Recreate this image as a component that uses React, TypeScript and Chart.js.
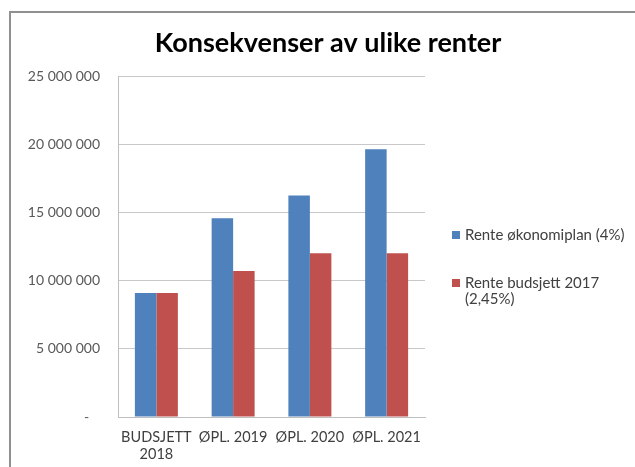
import React, { useEffect, useRef } from "react";
import { Chart, registerables } from "chart.js";

Chart.register(...registerables);

const TITLE = "Konsekvenser av ulike renter";
const categories: (string | string[])[] = [["BUDSJETT", "2018"], "ØPL. 2019", "ØPL. 2020", "ØPL. 2021"];
const seriesNames = ["Rente økonomiplan (4%)", "Rente budsjett 2017 (2,45%)"];
const renteOkonomiplan = [9100000, 14570000, 16230000, 19630000];
const renteBudsjett2017 = [9100000, 10700000, 12000000, 12000000];
const seriesColors = ["#4F81BD", "#C0504D"];
const yMin = 0;
const yMax = 25000000;
const yStep = 5000000;

function formatTick(v: number): string {
  if (v === 0) return "-   ";
  return String(Math.round(v)).replace(/\B(?=(\d{3})+(?!\d))/g, " ");
}

function wrapText(ctx: CanvasRenderingContext2D, text: string, maxW: number): string[] {
  const words = text.split(" ");
  const lines: string[] = [];
  let cur = "";
  for (const w of words) {
    const test = cur ? cur + " " + w : w;
    if (ctx.measureText(test).width > maxW && cur) {
      lines.push(cur);
      cur = w;
    } else {
      cur = test;
    }
  }
  if (cur) lines.push(cur);
  return lines;
}

const decorPlugin = {
  id: "decor",
  afterDraw(chart: any) {
    const { ctx, chartArea } = chart;
    ctx.save();
    ctx.fillStyle = "#000000";
    ctx.font = "bold 27px Lato";
    ctx.textAlign = "center";
    ctx.textBaseline = "alphabetic";
    ctx.fillText(TITLE, 328, 52);

    ctx.font = "15px Lato";
    ctx.textAlign = "left";
    ctx.textBaseline = "middle";
    const lx = chartArea.right + 27;
    const tx = lx + 13;
    const maxW = 635 - tx - 1;
    let y = 235;
    chart.data.datasets.forEach((ds: any) => {
      const lines = wrapText(ctx, ds.label, maxW);
      ctx.fillStyle = ds.backgroundColor;
      ctx.fillRect(lx, y - 4, 8, 8);
      ctx.fillStyle = "#404040";
      lines.forEach((ln, j) => ctx.fillText(ln, tx, y + j * 16));
      y += 48;
    });
    ctx.restore();
  },
};

export default function App() {
  const ref = useRef<HTMLCanvasElement | null>(null);

  useEffect(() => {
    if (!ref.current) return;
    const chart = new Chart(ref.current, {
      type: "bar",
      data: {
        labels: categories as any,
        datasets: [
          {
            label: seriesNames[0],
            data: renteOkonomiplan,
            backgroundColor: seriesColors[0],
            borderWidth: 0,
          },
          {
            label: seriesNames[1],
            data: renteBudsjett2017,
            backgroundColor: seriesColors[1],
            borderWidth: 0,
          },
        ],
      },
      options: {
        animation: false,
        responsive: false,
        devicePixelRatio: 1,
        layout: { padding: { left: 0, top: 76, right: 210, bottom: 0 } },
        plugins: {
          legend: { display: false },
          title: { display: false },
          tooltip: { enabled: false },
        },
        datasets: {
          bar: { categoryPercentage: 0.56, barPercentage: 1.0 },
        },
        scales: {
          x: {
            grid: { display: false, drawTicks: false },
            border: { display: true, color: "#BFBFBF", width: 1 },
            ticks: {
              color: "#404040",
              padding: 12,
              maxRotation: 0,
              autoSkip: false,
              font: { family: "Lato", size: 14.5, lineHeight: 1.17 },
            },
            afterFit: (scale: any) => {
              scale.height = 50;
            },
          },
          y: {
            min: yMin,
            max: yMax,
            grid: { color: "#C8C8C8", lineWidth: 1, drawTicks: false },
            border: { display: true, color: "#BFBFBF", width: 1 },
            ticks: {
              stepSize: yStep,
              color: "#595959",
              padding: 18,
              font: { family: "Lato", size: 14 },
              callback: (v: any) => formatTick(Number(v)),
            },
            afterFit: (scale: any) => {
              scale.width = 118;
            },
          },
        },
      },
      plugins: [decorPlugin],
    });
    return () => chart.destroy();
  }, []);

  return (
    <div
      style={{
        position: "absolute",
        left: 0,
        top: 0,
        width: 635,
        height: 467,
        overflow: "hidden",
        background: "#ffffff",
      }}
    >
      <div
        style={{
          position: "absolute",
          left: 9,
          top: 11,
          width: 700,
          height: 520,
          borderLeft: "2px solid #909090",
          borderTop: "2px solid #909090",
        }}
      />
      <canvas
        ref={ref}
        width={635}
        height={467}
        style={{ position: "absolute", left: 0, top: 0, width: 635, height: 467 }}
      />
    </div>
  );
}
